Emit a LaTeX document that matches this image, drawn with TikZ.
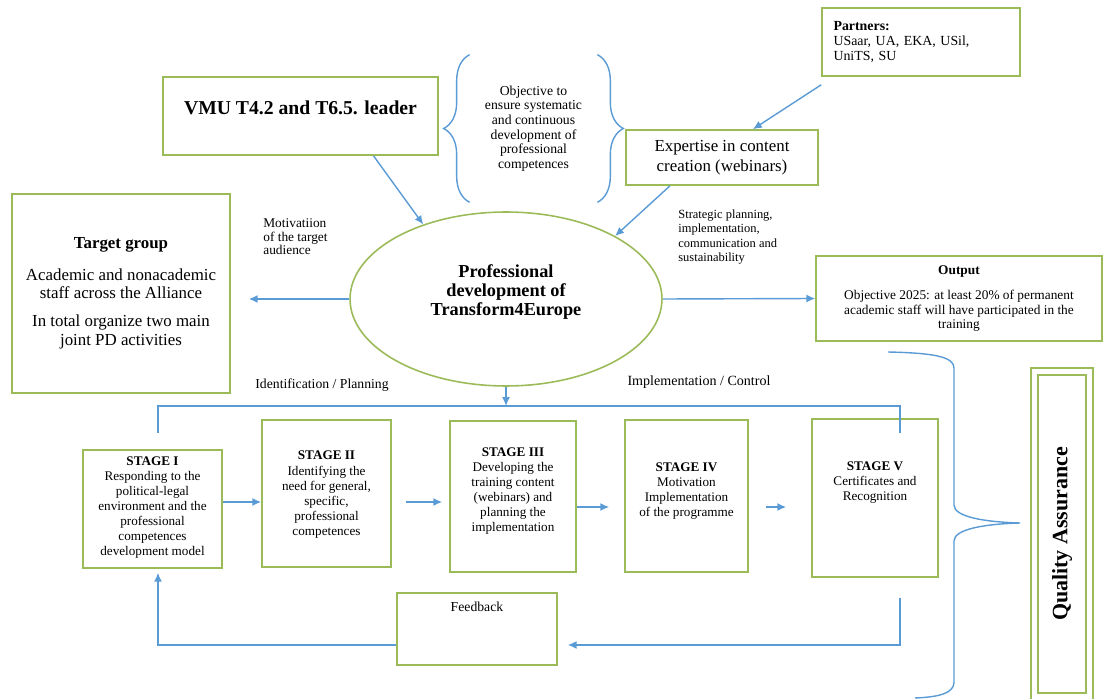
\documentclass[tikz,border=0pt]{standalone}
\usepackage{fontspec}
\setmainfont{Liberation Serif}
\usetikzlibrary{shapes.geometric,arrows.meta,decorations.pathreplacing}
\definecolor{verdebox}{RGB}{155,187,89}
\definecolor{blufreccia}{RGB}{91,155,213}
\begin{document}
\begin{tikzpicture}[x=0.02cm,y=-0.02cm,
	box/.style={draw=verdebox,line width=0.9pt,rectangle,inner sep=2pt,align=center},
	freccia/.style={-{Latex[length=5pt,width=4.5pt]},draw=blufreccia,line width=0.8pt},
	linea/.style={draw=blufreccia,line width=0.8pt},
	graffa/.style={linea,decorate,decoration={brace,amplitude=0.52cm}},
	testo/.style={inner sep=0pt,align=center},
	testo stadio/.style={inner sep=0pt,align=center,anchor=north,font=\fontsize{7.5}{8.6}\selectfont}]
\useasboundingbox (0,0) rectangle (1103,699);

% Nodo partner
\node[box,minimum width=3.96cm,minimum height=1.36cm,text width=3.5cm,align=left,
	font=\fontsize{7.9}{8.6}\selectfont] (partner) at (921,42) {\textbf{Partners:}\\USaar, UA, EKA, USil,\\UniTS, SU};
% Nodo VMU
\node[box,minimum width=5.5cm,minimum height=1.56cm,text depth=0.32cm,
	font=\bfseries\fontsize{11.2}{13}\selectfont] (vmu) at (300.5,116) {VMU T4.2 and T6.5. leader};
% Nodo obiettivo con le graffe
\node[testo,minimum width=2.54cm,minimum height=2.94cm,font=\fontsize{7.8}{8.3}\selectfont] (obiettivo) at (533.5,128.5)
	{Objective to\\ensure systematic\\and continuous\\development of\\professional\\competences};
\draw[graffa] (obiettivo.south west) -- (obiettivo.north west);
\draw[graffa] (obiettivo.north east) -- (obiettivo.south east);
% Nodo expertise
\node[box,minimum width=3.84cm,minimum height=1.1cm,font=\fontsize{9.6}{11.3}\selectfont] (expertise) at (722,157.5) {Expertise in content\\creation (webinars)};
% Nodo gruppo target
\node[box,minimum width=4.36cm,minimum height=3.98cm,font=\fontsize{9.6}{10.8}\selectfont] (target) at (121,293.5)
	{\textbf{Target group}\\[7pt]Academic and nonacademic\\staff across the Alliance\\[5pt]In total organize two main\\joint PD activities};
% Testi liberi
\node[testo,anchor=north west,align=left,font=\fontsize{7.6}{7.9}\selectfont] (motivazione) at (263,218) {Motivatiion\\of the target\\audience};
\node[testo,anchor=north west,align=left,font=\fontsize{7.1}{8.3}\selectfont] (strategia) at (678,209) {Strategic planning,\\implementation,\\communication and\\sustainability};
% Ellisse centrale
\node[ellipse,draw=verdebox,line width=0.9pt,minimum width=6.24cm,minimum height=3.48cm,align=center,text depth=0.35cm,
	font=\bfseries\fontsize{10.4}{10.8}\selectfont] (ell) at (506,299) {Professional\\development of\\Transform4Europe};
% Nodo output
\node[box,minimum width=5.72cm,minimum height=1.7cm,font=\fontsize{7.6}{8.3}\selectfont] (output) at (959,298.5)
	{\textbf{Output}\\[6pt]Objective 2025: at least 20\% of permanent\\academic staff will have participated in the\\training};
% Etichette delle fasi
\node[testo,font=\fontsize{7.8}{9}\selectfont] (identificazione) at (322,385) {Identification / Planning};
\node[testo,font=\fontsize{8}{9}\selectfont] (implementazione) at (699,382) {Implementation / Control};

% Stadi
\node[box,minimum width=2.78cm,minimum height=2.36cm,label={[testo stadio,yshift=-4pt]north:\textbf{STAGE I}\\Responding to the\\political-legal\\environment and the\\professional\\competences\\development model}] (s1) at (152.5,509) {};
\node[box,minimum width=2.58cm,minimum height=2.94cm,label={[testo stadio,yshift=-18pt]north:\textbf{STAGE II}\\Identifying the\\need for general,\\specific,\\professional\\competences}] (s2) at (326.5,493.5) {};
\node[box,minimum width=2.52cm,minimum height=3.02cm,label={[testo stadio,yshift=-15.3pt]north:\textbf{STAGE III}\\Developing the\\training content\\(webinars) and\\planning the\\implementation}] (s3) at (513,496.5) {};
\node[box,minimum width=2.46cm,minimum height=3.04cm,label={[testo stadio,yshift=-24.4pt]north:\textbf{STAGE IV}\\Motivation\\Implementation\\of the programme}] (s4) at (686.5,496) {};
\node[box,minimum width=2.52cm,minimum height=3.16cm,label={[testo stadio,yshift=-24.4pt]north:\textbf{STAGE V}\\Certificates and\\Recognition}] (s5) at (875,498) {};
% Nodo feedback
\node[box,minimum width=3.2cm,minimum height=1.44cm,label={[testo stadio,yshift=-5.5pt,font=\fontsize{7.8}{9}\selectfont]north:Feedback}] (feedback) at (477,629) {};
% Nodo qualita
\node[draw=verdebox,line width=0.8pt,double=white,double distance=0.112cm,rotate=90,minimum width=6.5cm,minimum height=1.1cm,
	font=\bfseries\fontsize{12.5}{14}\selectfont] (qa) at (1062,534) {Quality Assurance};

% Punti di appoggio delle linee
\coordinate (alto sx) at (158,406);
\coordinate (alto dx) at (900,406);
\coordinate (ritorno sx) at (158,433);
\coordinate (ritorno dx) at (900,433);
\coordinate (fb alto) at (900,598);
\coordinate (fila a) at (0,502);
\coordinate (fila b) at (0,507);

% Frecce in alto
\draw[freccia] ([yshift=-0.16cm]partner.south west) -- ([xshift=0.62cm]expertise.north);
\draw[freccia] ([xshift=1.46cm]vmu.south) -- (ell.138);
\draw[freccia] ([xshift=-1.04cm]expertise.south) -- (ell.30);
\draw[freccia,shorten >=0.36cm] (ell.west) -- (ell.west -| target.east);
\draw[freccia] (ell.east) -- (output.west);
\draw[freccia] (ell.south) -- (ell.south |- alto sx);
% Linea sopra gli stadi
\draw[linea] (ritorno sx) -- (alto sx) -- (alto dx) -- (ritorno dx);
% Frecce tra gli stadi
\draw[freccia] (s1.east |- fila a) -- (s2.west |- fila a);
\draw[freccia,shorten <=0.28cm,shorten >=0.14cm] (s2.east |- fila a) -- (s3.west |- fila a);
\draw[freccia,shorten >=0.3cm] (s3.east |- fila b) -- (s4.west |- fila b);
\draw[freccia,shorten <=0.34cm,shorten >=0.5cm] (s4.east |- fila b) -- (s5.west |- fila b);
% Ritorno del feedback
\draw[freccia,shorten >=0.2cm] (fb alto) |- ([yshift=-0.32cm]feedback.east);
\draw[freccia,shorten >=0.08cm] ([yshift=-0.32cm]feedback.west) -| ([xshift=0.11cm]s1.south);
% Graffa verso la qualita
\draw[linea] (888,352) .. controls (935,353) and (954,357) .. (954,368) -- (954,505)
	.. controls (954,517) and (985,522) .. (1020,523) .. controls (985,524) and (954,529) .. (954,541)
	-- (954,682) .. controls (954,693) and (940,697) .. (915,698);
\end{tikzpicture}
\end{document}
